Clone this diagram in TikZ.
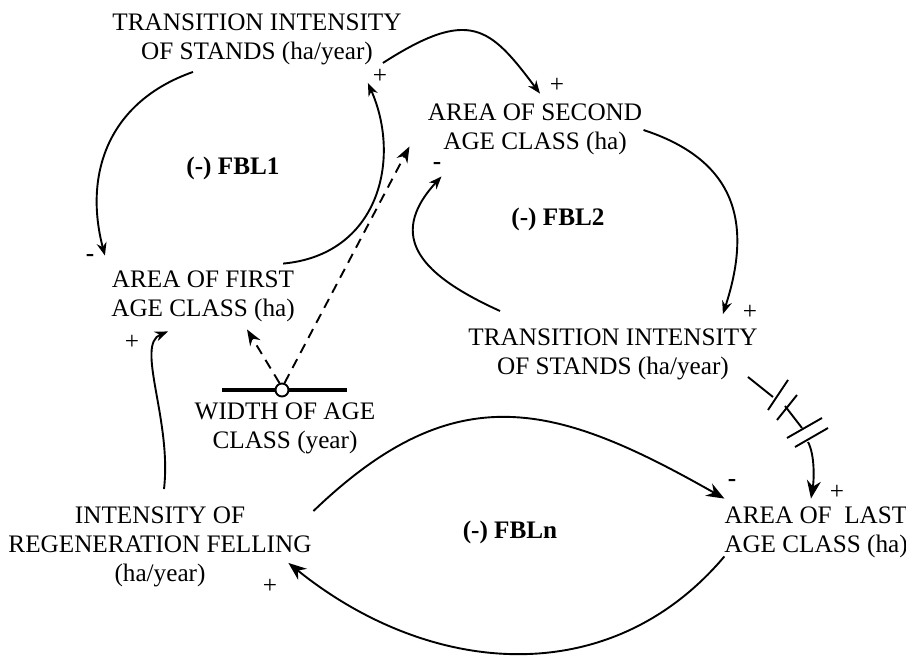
\documentclass[tikz,border=0pt]{standalone}
\usepackage{fontspec}
\setmainfont{Liberation Serif}
\usetikzlibrary{arrows.meta}
\tikzset{
  var/.style={align=center,inner sep=0pt,font=\fontsize{12.6}{14.5}\selectfont},
  sgn/.style={inner sep=0pt,font=\fontsize{12.6}{14.5}\selectfont},
  fbl/.style={inner sep=0pt,font=\fontsize{12.6}{14.5}\selectfont\bfseries},
  link/.style={line width=0.95pt,-{Stealth[length=6.5pt,width=5pt]}},
  biglink/.style={line width=0.95pt,-{Stealth[length=9pt,width=7pt]}},
  dlink/.style={line width=0.95pt,dash pattern=on 5pt off 3.5pt,-{Stealth[length=8pt,width=6pt]}},
}
\begin{document}
\begin{tikzpicture}[x=0.5pt,y=0.5pt]
\useasboundingbox (0,0) rectangle (906,655);
% variables
\node[var] (t1) at (257,616) {TRANSITION INTENSITY\\OF STANDS (ha/year)};
\node[var] (a2) at (535,526) {AREA OF SECOND\\AGE CLASS (ha)};
\node[var] (a1) at (203,359) {AREA OF FIRST\\AGE CLASS (ha)};
\node[var] (t2) at (613,301) {TRANSITION INTENSITY\\OF STANDS (ha/year)};
\node[var] (wd) at (285,227) {WIDTH OF AGE\\CLASS (year)};
\node[var] (ir) at (160,108) {INTENSITY OF\\REGENERATION FELLING\\(ha/year)};
\node[var] (a3) at (816,123) {AREA OF\ \ LAST\\AGE CLASS (ha)};
% loop names
\node[fbl] (fbl1) at (233,487) {(-) FBL1};
\node[fbl] (fbl2) at (558,436) {(-) FBL2};
\node[fbl] (fbln) at (510,123) {(-) FBLn};
% signs
\node[sgn] (p1) at (380,579) {+};
\node[sgn] (p2) at (557,570) {+};
\node[sgn] (m1) at (90,397) {\bfseries -};
\node[sgn] (m2) at (437,489) {\bfseries -};
\node[sgn] (p3) at (750,343) {+};
\node[sgn] (p4) at (132,313) {+};
\node[sgn] (p5) at (270,69) {+};
\node[sgn] (m3) at (732,172) {\bfseries -};
\node[sgn] (p6) at (837,163) {+};
% width of age class
\draw[line width=2pt] (222,265) -- (347,265);
\node[circle,draw,fill=white,line width=0.95pt,inner sep=0pt,minimum size=6.5pt] (vl) at (282,265) {};
% first loop
\draw[link] ([shift={(-64,-7)}]t1.south) .. controls (110,554) and (83,483) .. ([shift={(-6,14.5)}]a1.north west);
\draw[link] ([shift={(-12,6.5)}]a1.north east) .. controls (378,400) and (402,495) .. ([shift={(-34,-18)}]t1.south east);
\draw[link] ([shift={(-19,2)}]t1.south east) .. controls (470,648) and (490,628) .. ([shift={(5,9.5)}]a2.north);
% second loop
\draw[link] ([shift={(1,-1)}]a2.east) .. controls (738,494) and (752,430) .. ([shift={(-35,14)}]t2.north east);
\draw[link] ([shift={(32,17)}]t2.north west) .. controls (423,379) and (385,417) .. ([shift={(14,-21.5)}]a2.south west);
% delayed link to last class
\draw[line width=0.95pt] ([shift={(-10,3)}]t2.south east) -- (773,258);
\draw[line width=0.95pt] (768,245) -- (788,275);
\draw[line width=0.95pt] (777,235) -- (797,260);
\draw[line width=0.95pt] (785,249) -- (802,227);
\draw[line width=0.95pt] (787,217) -- (822,237);
\draw[line width=0.95pt] (795,208) -- (828,227);
\draw[biglink] (808,213) .. controls (815,200) and (814,175) .. ([shift={(-5,7.5)}]a3.north);
% dashed links
\draw[dlink] (vl.110) -- ([shift={(44,-7.5)}]a1.south);
\draw[dlink] (vl.70) -- ([shift={(-18,8.5)}]a2.south west);
% felling
\draw[link] ([shift={(4,17.5)}]ir.north) .. controls (172,235) and (135,310) .. ([shift={(-35,-9.5)}]a1.south);
\draw[biglink] ([shift={(1.5,-4.5)}]ir.north east) .. controls (456,281) and (556,252) .. ([shift={(0.5,7.5)}]a3.north west);
\draw[biglink] ([shift={(0.5,1.5)}]a3.south west) .. controls (610,-37) and (430,-22) .. ([shift={(-23.5,24.5)}]ir.south east);
\end{tikzpicture}
\end{document}
